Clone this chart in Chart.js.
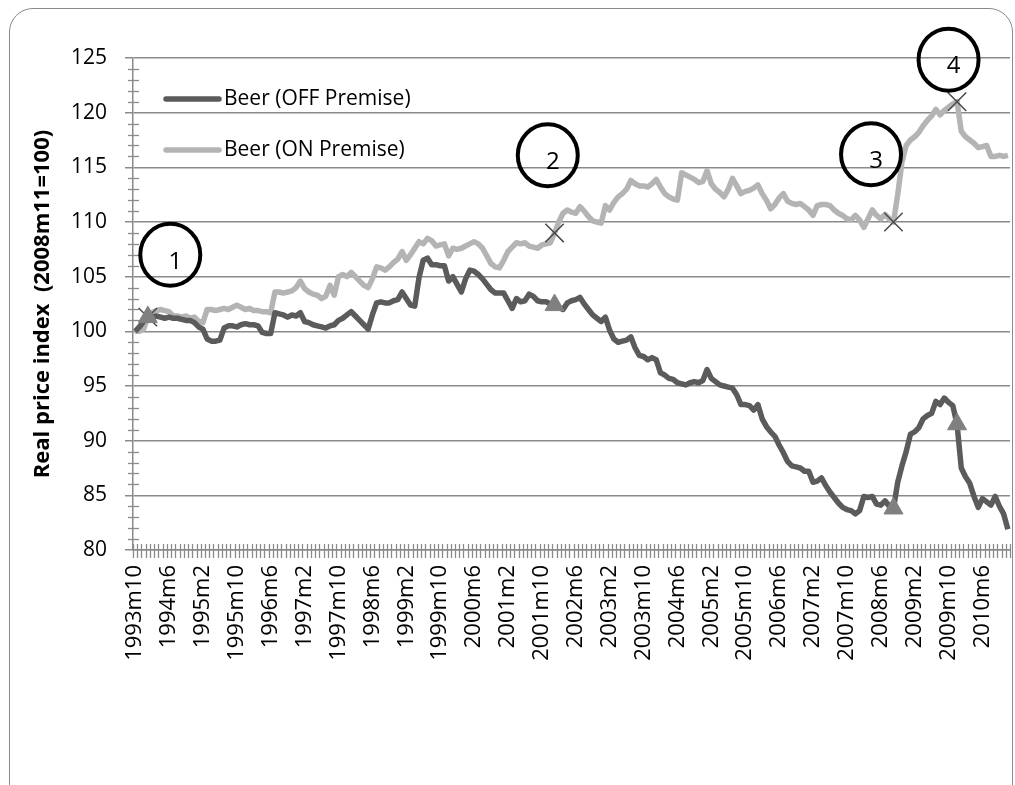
<!DOCTYPE html>
<html>
<head>
<meta charset="utf-8">
<script src="https://cdn.jsdelivr.net/npm/chart.js@4.4.1/dist/chart.umd.min.js"></script>
<style>
  html, body { margin: 0; padding: 0; background: #fff; overflow: hidden; }
  #wrap { position: relative; width: 1015px; height: 785px; }
  #frame { position: absolute; left: 9px; top: 8px; width: 1002px; height: 820px;
           border: 1.5px solid #8a8a8a; border-radius: 24px; pointer-events: none; }
</style>
</head>
<body>
<div id="wrap"><canvas id="chart"></canvas><div id="frame"></div></div>
<script>
// monthly categories 1993m10 .. 2010m12
const firstYear = 1993, firstMonth = 10, monthCount = 207;
const months = [];
for (let i = 0; i < monthCount; i++) {
  const m = firstMonth - 1 + i;
  months.push((firstYear + Math.floor(m / 12)) + 'm' + (m % 12 + 1));
}

// labels printed under the axis
const tickLabels = ['1993m10', '1994m6', '1995m2', '1995m10', '1996m6', '1997m2', '1997m10',
  '1998m6', '1999m2', '1999m10', '2000m6', '2001m2', '2001m10', '2002m6', '2003m2', '2003m10',
  '2004m6', '2005m2', '2005m10', '2006m6', '2007m2', '2007m10', '2008m6', '2009m2', '2009m10', '2010m6'];

const offPremise = [
  100.0, 100.4, 100.9, 101.3, 101.3, 101.4, 101.3, 101.2, 101.3, 101.2,
  101.2, 101.1, 101.0, 101.0, 100.8, 100.4, 100.2, 99.3, 99.1, 99.1,
  99.2, 100.3, 100.5, 100.5, 100.4, 100.6, 100.7, 100.6, 100.6, 100.5,
  99.9, 99.8, 99.8, 101.7, 101.6, 101.5, 101.3, 101.5, 101.4, 101.7,
  100.9, 100.8, 100.6, 100.5, 100.4, 100.3, 100.5, 100.6, 101.0, 101.2,
  101.5, 101.8, 101.4, 101.0, 100.6, 100.2, 101.5, 102.6, 102.7, 102.6,
  102.6, 102.8, 102.9, 103.6, 103.0, 102.4, 102.3, 104.9, 106.5, 106.7,
  106.1, 106.1, 106.0, 106.0, 104.6, 105.0, 104.3, 103.6, 104.8, 105.6,
  105.5, 105.2, 104.8, 104.3, 103.8, 103.5, 103.5, 103.5, 102.8, 102.1,
  103.0, 102.7, 102.8, 103.4, 103.2, 102.8, 102.7, 102.7, 102.5, 102.4,
  102.2, 102.0, 102.6, 102.8, 102.9, 103.1, 102.5, 102.0, 101.5, 101.2,
  100.9, 101.3, 100.1, 99.3, 99.0, 99.1, 99.2, 99.5, 98.5, 97.8,
  97.7, 97.4, 97.6, 97.4, 96.2, 96.0, 95.7, 95.6, 95.3, 95.2,
  95.1, 95.3, 95.4, 95.3, 95.5, 96.5, 95.7, 95.4, 95.1, 95.0,
  94.9, 94.8, 94.2, 93.3, 93.3, 93.2, 92.8, 93.3, 92.0, 91.3,
  90.8, 90.4, 89.6, 88.9, 88.1, 87.7, 87.6, 87.5, 87.2, 87.2,
  86.2, 86.3, 86.6, 85.9, 85.3, 84.8, 84.3, 83.9, 83.7, 83.6,
  83.3, 83.6, 84.9, 84.8, 84.9, 84.2, 84.1, 84.5, 84.0, 83.8,
  86.2, 87.7, 89.0, 90.6, 90.8, 91.2, 92.0, 92.3, 92.5, 93.6,
  93.3, 93.9, 93.5, 93.2, 91.5, 87.5, 86.7, 86.1, 84.9, 83.9,
  84.7, 84.4, 84.1, 84.9, 84.0, 83.3, 81.9
];

const onPremise = [
  100.0, 100.0, 100.2, 101.3, 101.7, 101.9, 102.0, 101.9, 101.8, 101.4,
  101.4, 101.3, 101.4, 101.2, 101.3, 100.9, 100.8, 102.0, 102.0, 101.9,
  102.0, 102.1, 102.0, 102.2, 102.4, 102.2, 102.0, 102.1, 101.9, 101.9,
  101.8, 101.8, 101.7, 103.6, 103.6, 103.5, 103.6, 103.7, 104.0, 104.6,
  103.9, 103.6, 103.4, 103.3, 103.0, 103.2, 104.2, 103.3, 105.0, 105.2,
  105.0, 105.4, 105.0, 104.6, 104.2, 104.0, 104.8, 105.9, 105.8, 105.6,
  105.9, 106.3, 106.6, 107.3, 106.5, 107.0, 107.6, 108.2, 108.0, 108.5,
  108.3, 107.8, 107.9, 108.0, 106.9, 107.6, 107.5, 107.6, 107.8, 108.0,
  108.2, 108.0, 107.6, 106.9, 106.2, 105.9, 105.8, 106.5, 107.3, 107.7,
  108.1, 108.0, 108.1, 107.8, 107.7, 107.6, 107.9, 108.0, 108.1, 109.0,
  110.0, 110.8, 111.1, 110.9, 110.8, 111.4, 111.0, 110.5, 110.1, 110.0,
  109.9, 111.5, 111.1, 111.8, 112.3, 112.6, 113.0, 113.8, 113.5, 113.3,
  113.3, 113.2, 113.5, 113.9, 113.2, 112.6, 112.3, 112.1, 112.0, 114.5,
  114.3, 114.1, 113.9, 113.6, 113.7, 114.7, 113.5, 113.0, 112.7, 112.3,
  113.0, 114.0, 113.3, 112.6, 112.8, 112.9, 113.1, 113.4, 112.6, 112.0,
  111.2, 111.6, 112.2, 112.6, 111.9, 111.7, 111.6, 111.7, 111.4, 111.1,
  110.6, 111.5, 111.6, 111.6, 111.5, 111.1, 110.8, 110.6, 110.3, 110.2,
  110.6, 110.2, 109.5, 110.3, 111.1, 110.6, 110.3, 110.7, 110.3, 110.0,
  112.5, 115.5, 117.0, 117.5, 117.8, 118.2, 118.8, 119.3, 119.7, 120.3,
  119.8, 120.2, 120.5, 120.8, 121.0, 118.3, 117.8, 117.5, 117.2, 116.8,
  116.9, 117.0, 116.0, 116.0, 116.1, 116.0, 116.1
];

// months that carry a marker (triangle / cross)
const markerIndex = [3, 99, 179, 194];

// numbered circles: label, category position, value position
const circleLabels = ['1', '2', '3', '4'];
const circleAt = [8.3, 97.4, 173.7, 192.0];
const circleVal = [107.0, 116.1, 116.2, 124.85];

const FONT = 'Open Sans';
const GRID = '#8a8a8a';

// small tick marks crossing the axes
const axisTicks = {
  id: 'axisTicks',
  beforeDatasetsDraw(chart) {
    const { ctx, chartArea: a, scales: { x, y } } = chart;
    ctx.save();
    ctx.strokeStyle = GRID;
    ctx.lineWidth = 1.3;
    for (let i = 0; i <= months.length; i++) {
      const px = Math.round(x.getPixelForValue(i - 0.5)) + 0.5;
      ctx.beginPath();
      ctx.moveTo(px, a.bottom - 6);
      ctx.lineTo(px, a.bottom + 8);
      ctx.stroke();
    }
    y.ticks.forEach(t => {
      if (t.value % 5 === 0) return;
      const py = Math.round(y.getPixelForValue(t.value)) + 0.5;
      ctx.beginPath();
      ctx.moveTo(a.left - 5, py);
      ctx.lineTo(a.left + 6, py);
      ctx.stroke();
    });
    ctx.restore();
  }
};

// legend inside plot + numbered circles
const overlay = {
  id: 'overlay',
  afterDatasetsDraw(chart) {
    const { ctx, chartArea: a, scales: { x, y } } = chart;
    ctx.save();
    chart.data.datasets.forEach((ds, i) => {
      const yy = a.top + 41 + i * 51;
      ctx.strokeStyle = ds.borderColor;
      ctx.lineWidth = 5.5;
      ctx.lineCap = 'round';
      ctx.beginPath();
      ctx.moveTo(a.left + 33, yy);
      ctx.lineTo(a.left + 86, yy);
      ctx.stroke();
      ctx.fillStyle = '#000';
      ctx.font = '21px "' + FONT + '"';
      ctx.textAlign = 'left';
      ctx.textBaseline = 'middle';
      ctx.fillText(ds.label, a.left + 91, yy);
    });
    circleLabels.forEach((lab, i) => {
      const cx = x.getPixelForValue(circleAt[i]);
      const cy = y.getPixelForValue(circleVal[i]);
      ctx.strokeStyle = '#000';
      ctx.lineWidth = 4;
      ctx.beginPath();
      ctx.ellipse(cx, cy, 30, 31, 0, 0, Math.PI * 2);
      ctx.stroke();
      ctx.fillStyle = '#000';
      ctx.font = '24px "' + FONT + '"';
      ctx.textAlign = 'center';
      ctx.textBaseline = 'middle';
      ctx.fillText(lab, cx + 5, cy + 7);
    });
    ctx.restore();
  }
};

const isMarker = c => markerIndex.includes(c.dataIndex);

new Chart(document.getElementById('chart'), {
  type: 'line',
  data: {
    labels: months,
    datasets: [
      {
        label: 'Beer (OFF Premise)',
        data: offPremise,
        borderColor: '#5b5b5b',
        borderWidth: 5.5,
        borderJoinStyle: 'round',
        pointStyle: 'triangle',
        pointRadius: c => isMarker(c) ? 11 : 0,
        pointBackgroundColor: '#808080',
        pointBorderColor: '#808080',
        pointBorderWidth: 1
      },
      {
        label: 'Beer (ON Premise)',
        data: onPremise,
        borderColor: '#b4b4b4',
        borderWidth: 5.5,
        borderJoinStyle: 'round',
        pointStyle: 'crossRot',
        pointRadius: c => isMarker(c) ? 13 : 0,
        pointBorderColor: '#4a4a4a',
        pointBorderWidth: 1.5
      }
    ]
  },
  options: {
    responsive: true,
    maintainAspectRatio: false,
    animation: false,
    events: [],
    layout: { padding: { top: 58, right: 5, bottom: 0, left: 0 } },
    plugins: { legend: { display: false }, tooltip: { enabled: false } },
    scales: {
      x: {
        type: 'category',
        offset: true,
        grid: { display: false, drawTicks: false },
        border: { display: true, color: GRID, width: 1.5 },
        ticks: {
          autoSkip: false,
          maxRotation: 90,
          minRotation: 90,
          padding: 15,
          color: '#000',
          font: { family: FONT, size: 22 },
          callback: (v, i) => tickLabels.includes(months[i]) ? months[i] : ''
        },
        afterFit: s => { s.height = 235; s.paddingLeft = 0; s.paddingRight = 0; }
      },
      y: {
        min: 80,
        max: 125,
        grid: {
          color: c => c.tick && c.tick.value % 5 === 0 ? GRID : 'transparent',
          tickColor: c => c.tick && c.tick.value % 5 === 0 ? GRID : 'transparent',
          lineWidth: 1.5,
          tickLength: 8
        },
        border: { display: true, color: GRID, width: 1.5 },
        ticks: {
          stepSize: 1,
          autoSkip: false,
          padding: 18,
          color: '#000',
          font: { family: FONT, size: 21 },
          callback: v => v % 5 === 0 ? String(v) : ''
        },
        title: {
          display: true,
          text: 'Real price index  (2008m11=100)',
          color: '#000',
          font: { family: FONT, size: 22, weight: 'bold' },
          padding: { top: 30, bottom: 0 }
        },
        afterFit: s => { s.width = 133; s.paddingTop = 0; s.paddingBottom = 0; }
      }
    }
  },
  plugins: [axisTicks, overlay]
});
</script>
</body>
</html>
